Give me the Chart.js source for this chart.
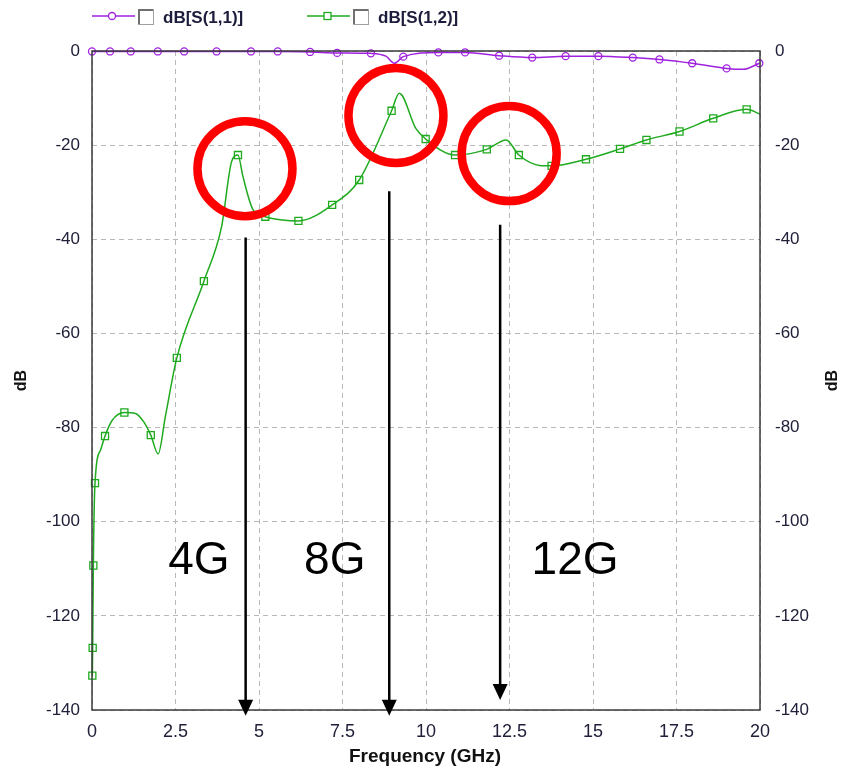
<!DOCTYPE html>
<html>
<head>
<meta charset="utf-8">
<script src="https://cdn.jsdelivr.net/npm/chart.js@4/dist/chart.umd.min.js"></script>
<style>
  body { margin: 0; background: #fff; }
  #wrap { width: 842px; height: 773px; }
</style>
</head>
<body>
<div id="wrap"><canvas id="chart1" width="842" height="773"></canvas></div>
<script>
// S(1,1) trace, frequency in GHz / dB, 1 = marker drawn
var s11Freq = [0, 0.54, 1.16, 1.97, 2.76, 3.73, 4.76, 5.56, 6.53, 7.34, 8.35, 8.8, 9.05, 9.32, 10.37, 11.17, 12.19, 13.18, 14.18, 15.16, 16.19, 16.99, 17.97, 19.0, 19.5, 19.98];
var s11dB = [-0.1, -0.1, -0.1, -0.1, -0.1, -0.1, -0.1, -0.1, -0.2, -0.4, -0.5, -1.1, -2.6, -1.2, -0.3, -0.3, -1.0, -1.4, -1.1, -1.1, -1.4, -1.8, -2.6, -3.7, -3.9, -2.6];
var s11Mark = [1, 1, 1, 1, 1, 1, 1, 1, 1, 1, 1, 0, 0, 1, 1, 1, 1, 1, 1, 1, 1, 1, 1, 1, 0, 1];

// S(1,2) trace
var s12Freq = [0.01, 0.02, 0.04, 0.09, 0.26, 0.39, 0.6, 0.97, 1.3, 1.55, 1.76, 1.98, 2.2, 2.54, 3.35, 3.88, 4.18, 4.37, 4.52, 4.82, 5.19, 5.7, 6.18, 7.19, 8.0, 8.97, 9.2, 9.7, 9.99, 10.87, 11.82, 12.4, 12.78, 13.4, 13.76, 14.79, 15.81, 16.6, 17.59, 18.6, 19.6, 20.0];
var s12dB = [-132.7, -126.8, -109.3, -91.8, -84.7, -81.8, -78.5, -76.8, -77.0, -78.8, -81.6, -85.6, -77.5, -65.2, -48.9, -37.3, -23.5, -22.1, -26.7, -33.7, -35.2, -35.9, -36.1, -32.7, -27.4, -12.7, -9.0, -16.5, -18.7, -22.1, -20.9, -18.9, -22.1, -24.3, -24.4, -23.0, -20.8, -18.9, -17.1, -14.3, -12.4, -13.4];
var s12Mark = [1, 1, 1, 1, 0, 1, 0, 1, 0, 0, 1, 0, 0, 1, 1, 0, 0, 1, 0, 0, 1, 0, 1, 1, 1, 1, 0, 0, 1, 1, 1, 0, 1, 0, 1, 1, 1, 1, 1, 1, 1, 0];

var xTicks = [0, 2.5, 5, 7.5, 10, 12.5, 15, 17.5, 20];
var yTicks = [0, -20, -40, -60, -80, -100, -120, -140];
var seriesNames = ["dB[S(1,1)]", "dB[S(1,2)]"];

// red rings, arrows and band labels (data units)
var rings = [[4.58, -25.0], [9.1, -13.7], [12.49, -21.8]];
var arrows = [[4.6, -39.6, -141.2], [8.9, -29.8, -141.2], [12.22, -36.9, -137.9]];
var bandLabels = [["4G", 2.28], ["8G", 6.35], ["12G", 13.16]];

var purple = "#a020e0";
var green = "#1faa1f";
var tickColor = "#20203a";

function toPoints(xs, ys) {
    return xs.map(function (x, i) { return { x: x, y: ys[i] }; });
}

var gridOpts = { color: "#b8b8b8", lineWidth: 1, drawTicks: false };
var borderOpts = { display: false, dash: [5, 4] };

var extras = {
    id: "extras",
    afterDatasetsDraw: function (chart) {
        var ctx = chart.ctx, a = chart.chartArea;
        var xs = chart.scales.x, ys = chart.scales.y;
        ctx.save();
        // plot frame
        ctx.strokeStyle = "#3a3a3a";
        ctx.lineWidth = 1.5;
        ctx.strokeRect(a.left, a.top, a.right - a.left, a.bottom - a.top);

        // red rings
        ctx.strokeStyle = "#ff0000";
        ctx.lineWidth = 8.5;
        rings.forEach(function (r) {
            ctx.beginPath();
            ctx.arc(xs.getPixelForValue(r[0]), ys.getPixelForValue(r[1]), 47.5, 0, Math.PI * 2);
            ctx.stroke();
        });

        // arrows
        ctx.strokeStyle = "#000";
        ctx.fillStyle = "#000";
        ctx.lineWidth = 2.5;
        arrows.forEach(function (ar) {
            var px = xs.getPixelForValue(ar[0]);
            var y1 = ys.getPixelForValue(ar[1]);
            var y2 = ys.getPixelForValue(ar[2]);
            ctx.beginPath();
            ctx.moveTo(px, y1);
            ctx.lineTo(px, y2 - 12);
            ctx.stroke();
            ctx.beginPath();
            ctx.moveTo(px - 7.5, y2 - 16);
            ctx.lineTo(px + 7.5, y2 - 16);
            ctx.lineTo(px, y2);
            ctx.closePath();
            ctx.fill();
        });

        // band labels
        ctx.font = "46px 'Liberation Sans', Arial, sans-serif";
        ctx.textBaseline = "alphabetic";
        ctx.textAlign = "left";
        bandLabels.forEach(function (t) {
            ctx.fillText(t[0], xs.getPixelForValue(t[1]), ys.getPixelForValue(-111.2));
        });

        // axis titles
        ctx.fillStyle = "#111";
        ctx.textAlign = "center";
        ctx.textBaseline = "middle";
        ctx.font = "bold 19px 'Liberation Sans Narrow', 'Liberation Sans', sans-serif";
        ctx.fillText("Frequency (GHz)", 425, 757);
        ctx.font = "bold 16px 'Liberation Sans', Arial, sans-serif";
        [22, 833].forEach(function (cx) {
            ctx.save();
            ctx.translate(cx, (a.top + a.bottom) / 2);
            ctx.rotate(-Math.PI / 2);
            ctx.fillText("dB", 0, 0);
            ctx.restore();
        });

        // legend
        var items = [[92, purple, "circle"], [307, green, "rect"]];
        items.forEach(function (it, i) {
            var lx = it[0], ly = 16;
            ctx.strokeStyle = it[1];
            ctx.lineWidth = 1.5;
            ctx.beginPath();
            ctx.moveTo(lx, ly);
            ctx.lineTo(lx + 43, ly);
            ctx.stroke();
            ctx.fillStyle = "#fff";
            ctx.lineWidth = 1.3;
            if (it[2] === "circle") {
                ctx.beginPath();
                ctx.arc(lx + 20, ly, 3.5, 0, Math.PI * 2);
                ctx.fill();
                ctx.stroke();
            } else {
                ctx.fillRect(lx + 17, ly - 3.5, 7, 7);
                ctx.strokeRect(lx + 17, ly - 3.5, 7, 7);
            }
            // checkbox
            var bx = lx + 46, by = 9;
            ctx.fillStyle = "#fff";
            ctx.fillRect(bx, by, 16, 16);
            ctx.strokeStyle = "#a0a0a0";
            ctx.lineWidth = 1;
            ctx.strokeRect(bx + 0.5, by + 0.5, 15, 15);
            ctx.strokeStyle = "#707070";
            ctx.lineWidth = 2;
            ctx.beginPath();
            ctx.moveTo(bx + 1, by + 15);
            ctx.lineTo(bx + 1, by + 1);
            ctx.lineTo(bx + 15, by + 1);
            ctx.stroke();
            ctx.fillStyle = "#1c1c3c";
            ctx.font = "bold 17px 'Liberation Sans', Arial, sans-serif";
            ctx.textAlign = "left";
            ctx.textBaseline = "middle";
            ctx.fillText(seriesNames[i], lx + 71, ly + 2);
        });
        ctx.restore();
    }
};

new Chart("chart1", {
    type: "line",
    data: {
        datasets: [
            {
                label: seriesNames[0],
                data: toPoints(s11Freq, s11dB),
                borderColor: purple,
                borderWidth: 1.5,
                pointStyle: "circle",
                pointRadius: function (c) { return s11Mark[c.dataIndex] ? 3.5 : 0; },
                pointBorderColor: purple,
                pointBackgroundColor: "rgba(255,255,255,0)",
                pointBorderWidth: 1.3,
                cubicInterpolationMode: "monotone",
                clip: false,
                fill: false
            },
            {
                label: seriesNames[1],
                data: toPoints(s12Freq, s12dB),
                borderColor: green,
                borderWidth: 1.5,
                pointStyle: "rect",
                pointRadius: function (c) { return s12Mark[c.dataIndex] ? 5 : 0; },
                pointBorderColor: green,
                pointBackgroundColor: "rgba(255,255,255,0)",
                pointBorderWidth: 1.3,
                cubicInterpolationMode: "monotone",
                clip: false,
                fill: false
            }
        ]
    },
    options: {
        responsive: false,
        animation: false,
        layout: { padding: { top: 51, left: 0, right: 0, bottom: 0 } },
        plugins: { legend: { display: false }, tooltip: { enabled: false } },
        elements: { point: { hoverRadius: 0 } },
        scales: {
            x: {
                type: "linear",
                min: 0,
                max: 20,
                afterBuildTicks: function (s) { s.ticks = xTicks.map(function (v) { return { value: v }; }); },
                afterFit: function (s) { s.height = 63; },
                grid: gridOpts,
                border: borderOpts,
                ticks: {
                    padding: 11,
                    color: tickColor,
                    font: { family: "'Liberation Sans Narrow', 'Liberation Sans', sans-serif", size: 18 },
                    maxRotation: 0,
                    callback: function (v) { return String(v); }
                }
            },
            y: {
                type: "linear",
                position: "left",
                min: -140,
                max: 0,
                afterBuildTicks: function (s) { s.ticks = yTicks.map(function (v) { return { value: v }; }); },
                afterFit: function (s) { s.width = 92; },
                grid: gridOpts,
                border: borderOpts,
                ticks: {
                    padding: 12,
                    color: tickColor,
                    font: { family: "'Liberation Sans', Arial, sans-serif", size: 17 },
                    callback: function (v) { return String(v); }
                }
            },
            y2: {
                type: "linear",
                position: "right",
                min: -140,
                max: 0,
                afterBuildTicks: function (s) { s.ticks = yTicks.map(function (v) { return { value: v }; }); },
                afterFit: function (s) { s.width = 82; },
                grid: { display: false, drawTicks: false },
                border: { display: false },
                ticks: {
                    padding: 15,
                    color: tickColor,
                    font: { family: "'Liberation Sans', Arial, sans-serif", size: 17 },
                    callback: function (v) { return String(v); }
                }
            }
        }
    },
    plugins: [extras]
});
</script>
</body>
</html>
